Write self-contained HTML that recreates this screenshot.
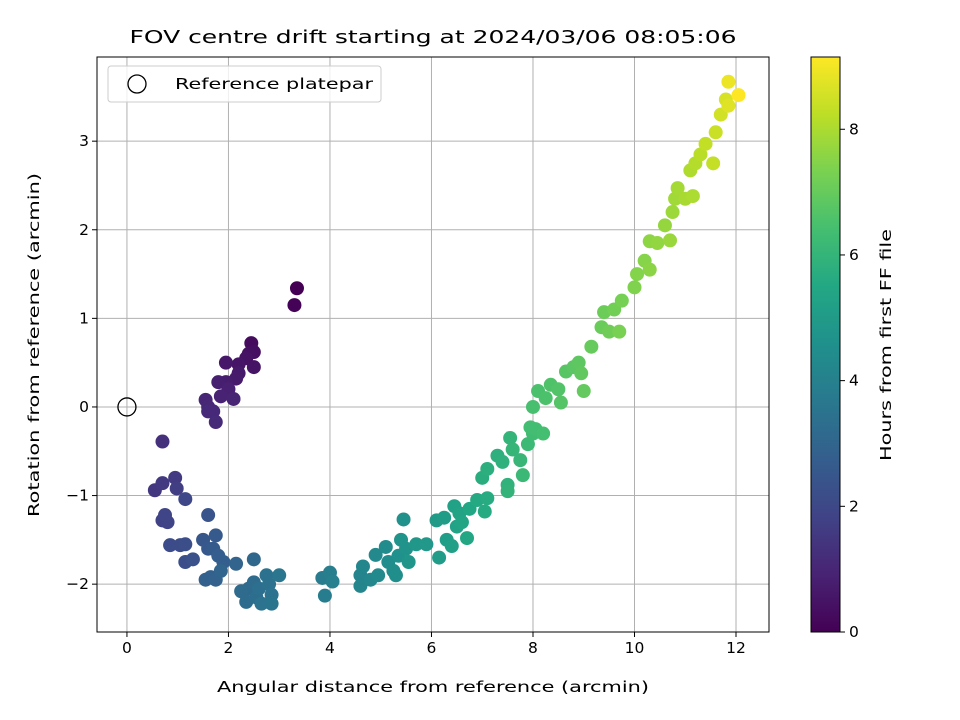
<!DOCTYPE html>
<html><head><meta charset="utf-8">
<style>
body{margin:0;background:#fff;}
svg{display:block;font-family:"DejaVu Sans","Liberation Sans",sans-serif;}
</style></head>
<body>
<svg id="chart" width="960" height="720" viewBox="0 0 960 720">
<rect width="960" height="720" fill="#fff"/>
<text x="433" y="43" text-anchor="middle" font-size="18" textLength="607" lengthAdjust="spacingAndGlyphs" fill="#000">FOV centre drift starting at 2024/03/06 08:05:06</text>
<g id="grid"></g>
<g id="pts"></g>
<rect x="97" y="57" width="672" height="575" fill="none" stroke="#000" stroke-width="1"/>
<g id="xt"></g><g id="yt"></g>
<text x="433" y="692" text-anchor="middle" font-size="15" textLength="432" lengthAdjust="spacingAndGlyphs">Angular distance from reference (arcmin)</text>
<text transform="translate(39,345) rotate(-90)" text-anchor="middle" font-size="15" textLength="344" lengthAdjust="spacingAndGlyphs">Rotation from reference (arcmin)</text>
<g>
<rect x="108" y="66" width="273" height="36" rx="3" fill="#fff" stroke="#ccc" fill-opacity="0.8"/>
<circle cx="137" cy="84" r="9" fill="none" stroke="#000" stroke-width="1.3"/>
<text x="175" y="89" font-size="15" textLength="198" lengthAdjust="spacingAndGlyphs">Reference platepar</text>
</g>
<defs><linearGradient id="vir" x1="0" y1="1" x2="0" y2="0"></linearGradient></defs>
<rect x="811" y="57" width="29" height="575" fill="url(#vir)" stroke="#000" stroke-width="1"/>
<g id="ct"></g>
<text transform="translate(891,345) rotate(-90)" text-anchor="middle" font-size="15" textLength="232" lengthAdjust="spacingAndGlyphs">Hours from first FF file</text>
</svg>
<script>
const xs=[3.35,3.3,2.45,2.5,2.4,2.35,2.5,2.2,1.95,2.2,2.15,1.95,1.8,2.0,1.85,2.1,1.55,1.6,1.7,1.75,1.6,
0.7,0.55,0.7,0.95,0.98,0.7,0.8,0.75,1.15,0.85,1.05,1.15,1.15,1.3,1.6,1.5,1.6,1.75,1.7,1.8,1.9,1.55,1.65,1.75,2.15,1.85,
2.5,2.4,2.5,2.35,2.55,2.6,2.75,2.8,2.85,2.85,2.65,3.0,2.25,3.85,3.9,4.0,4.05,
4.6,4.6,4.65,4.8,4.9,4.95,5.1,5.15,5.25,5.3,5.35,5.45,5.4,5.5,5.55,5.7,5.9,6.1,6.15,6.25,6.3,6.4,6.45,6.5,6.55,6.6,6.7,6.75,6.9,7.05,7.1,7.0,7.1,7.3,7.4,7.5,7.5,7.55,7.6,7.75,7.8,7.9,8.0,8.05,8.2,7.95,8.0,8.1,8.25,8.35,8.5,8.55,8.65,8.8,8.9,8.95,9.0,9.15,9.35,9.4,9.5,9.6,9.75,9.7,10.0,10.05,10.2,10.3,10.3,10.45,10.6,10.7,10.75,10.8,10.85,11.0,11.15,11.1,11.2,11.3,11.4,11.55,11.6,11.7,11.8,11.85,11.85,12.05];
const ys=[1.34,1.15,0.72,0.62,0.6,0.55,0.45,0.48,0.5,0.38,0.32,0.28,0.28,0.2,0.12,0.09,0.08,0.0,-0.05,-0.17,-0.05,
-0.39,-0.94,-0.86,-0.8,-0.92,-1.28,-1.3,-1.22,-1.04,-1.56,-1.56,-1.55,-1.75,-1.72,-1.22,-1.5,-1.6,-1.45,-1.6,-1.68,-1.75,-1.95,-1.92,-1.95,-1.77,-1.85,
-1.72,-2.05,-1.98,-2.2,-2.15,-2.05,-1.9,-2.0,-2.12,-2.22,-2.22,-1.9,-2.08,-1.93,-2.13,-1.87,-1.97,
-1.9,-2.02,-1.8,-1.95,-1.67,-1.9,-1.58,-1.75,-1.85,-1.9,-1.68,-1.27,-1.5,-1.6,-1.75,-1.55,-1.55,-1.28,-1.7,-1.25,-1.5,-1.57,-1.12,-1.35,-1.2,-1.3,-1.48,-1.15,-1.05,-1.18,-1.03,-0.8,-0.7,-0.55,-0.62,-0.88,-0.95,-0.35,-0.48,-0.6,-0.77,-0.42,-0.3,-0.25,-0.3,-0.23,0.0,0.18,0.1,0.25,0.2,0.05,0.4,0.45,0.5,0.38,0.18,0.68,0.9,1.07,0.85,1.1,1.2,0.85,1.35,1.5,1.65,1.55,1.87,1.85,2.05,1.88,2.2,2.35,2.47,2.35,2.38,2.67,2.75,2.85,2.97,2.75,3.1,3.3,3.47,3.4,3.67,3.52];
const hours=[0.0,0.05,0.3,0.35,0.4,0.45,0.5,0.55,0.6,0.65,0.7,0.75,0.8,0.85,0.9,0.95,1.0,1.05,1.1,1.15,1.1,
1.3,1.5,1.55,1.6,1.7,1.8,1.85,1.9,2.0,2.1,2.15,2.2,2.25,2.3,2.4,2.5,2.55,2.6,2.65,2.7,2.75,2.8,2.85,2.9,2.95,3.0,
3.1,3.15,3.2,3.25,3.3,3.35,3.4,3.45,3.5,3.55,3.5,3.6,3.2,3.8,3.85,3.9,3.95,
4.1,4.15,4.2,4.25,4.3,4.35,4.4,4.45,4.5,4.55,4.6,4.65,4.7,4.75,4.8,4.85,4.9,5.0,5.05,5.1,5.15,5.2,5.25,5.3,5.35,5.4,5.45,5.5,5.55,5.6,5.65,5.7,5.75,5.8,5.85,5.9,5.95,6.0,6.05,6.1,6.15,6.2,6.3,6.35,6.4,6.35,6.45,6.5,6.55,6.6,6.65,6.7,6.75,6.8,6.85,6.9,6.95,7.0,7.05,7.1,7.15,7.2,7.25,7.3,7.4,7.45,7.5,7.55,7.6,7.65,7.7,7.75,7.8,7.85,7.9,7.95,8.0,8.05,8.1,8.2,8.3,8.35,8.4,8.5,8.6,8.7,8.9,9.15];
const xTicks=[0,2,4,6,8,10,12];
const yTicks=[-2,-1,0,1,2,3];
const cTicks=[0,2,4,6,8];

const NS="http://www.w3.org/2000/svg";
const X0=97,X1=769,Y0=57,Y1=632,xmin=-0.59,xmax=12.65,ymin=-2.54,ymax=3.95;
const sx=v=>X0+(v-xmin)/(xmax-xmin)*(X1-X0);
const sy=v=>Y1-(v-ymin)/(ymax-ymin)*(Y1-Y0);
const cmax=Math.max(...hours);
const cy=v=>632-v/cmax*575;
const V=[[68,1,84],[72,35,116],[64,67,135],[52,94,141],[41,120,142],[32,144,140],[34,167,132],[68,190,112],[121,209,81],[189,222,38],[253,231,37]];
function vir(t){t=Math.max(0,Math.min(1,t))*(V.length-1);const i=Math.min(Math.floor(t),V.length-2),f=t-i;
 const c=V[i].map((a,k)=>Math.round(a+(V[i+1][k]-a)*f));return `rgb(${c[0]},${c[1]},${c[2]})`;}
function mk(tag,a,p){const e=document.createElementNS(NS,tag);for(const k in a)e.setAttribute(k,a[k]);p.appendChild(e);return e;}
const grid=document.getElementById('grid'),xt=document.getElementById('xt'),yt=document.getElementById('yt'),ct=document.getElementById('ct'),pts=document.getElementById('pts');
xTicks.forEach(v=>{const x=sx(v);
 const g=mk('line',{x1:x,x2:x,y1:Y0,y2:Y1,stroke:'#b0b0b0','stroke-width':1},grid);
 
 
 mk('line',{x1:x,x2:x,y1:Y1,y2:Y1+5,stroke:'#000'},xt);
 const t=mk('text',{x:x,y:Y1+21,'text-anchor':'middle','font-size':15.5},xt);t.textContent=v;
 
 });
yTicks.forEach(v=>{const y=sy(v);
 const g=mk('line',{x1:X0,x2:X1,y1:y,y2:y,stroke:'#b0b0b0','stroke-width':1},grid);
 
 
 mk('line',{x1:X0-5,x2:X0,y1:y,y2:y,stroke:'#000'},yt);
 const t=mk('text',{x:X0-8,y:y+5,'text-anchor':'end','font-size':15.5},yt);t.textContent=v<0?'\u2212'+(-v):v;
 
 });
cTicks.forEach(v=>{const y=cy(v);
 mk('line',{x1:840,x2:845,y1:y,y2:y,stroke:'#000'},ct);
 const t=mk('text',{x:849,y:y+5,'font-size':15.5},ct);t.textContent=v;
 
 });
const grad=document.getElementById('vir');
V.forEach((c,i)=>mk('stop',{offset:(i/(V.length-1)),'stop-color':`rgb(${c})`},grad));
xs.forEach((x,i)=>{const c=mk('circle',{cx:sx(x),cy:sy(ys[i]),r:7,fill:vir(hours[i]/cmax)},pts);
 
 });
const ref=mk('circle',{cx:sx(0),cy:sy(0),r:9,fill:'none',stroke:'#000','stroke-width':1.3},pts);


</script>
</body></html>
